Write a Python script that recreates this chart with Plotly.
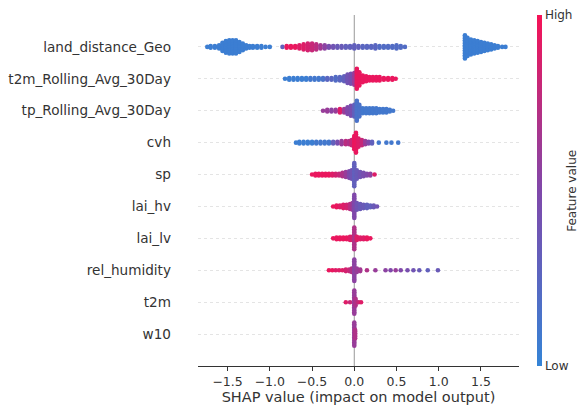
import plotly.graph_objects as go

# ---------------- data ----------------
features = ["land_distance_Geo", "t2m_Rolling_Avg_30Day", "tp_Rolling_Avg_30Day", "cvh", "sp",
            "lai_hv", "lai_lv", "rel_humidity", "t2m", "w10"]

# per feature: SHAP value bins, number of stacked points in each bin, mean feature value (0=low,1=high)
land_x = [-1.74, -1.70, -1.65, -1.60, -1.56, -1.52, -1.48, -1.44, -1.40, -1.36, -1.32, -1.28, -1.24, -1.20,
          -1.15, -1.10, -1.05, -1.00,
          -0.85, -0.80, -0.75, -0.70, -0.65, -0.60, -0.55, -0.50, -0.45, -0.40, -0.35, -0.30, -0.25, -0.20,
          -0.15, -0.10, -0.05, 0.00, 0.05, 0.10, 0.15, 0.20, 0.25, 0.30, 0.35, 0.40, 0.45, 0.50, 0.55, 0.60,
          1.31, 1.34, 1.38, 1.42, 1.46, 1.50, 1.54, 1.58, 1.62, 1.66, 1.70, 1.75, 1.79]
land_n = [1, 2, 2, 3, 6, 8, 9, 9, 9, 7, 5, 3, 2, 2, 2, 2, 1, 1,
          1, 2, 2, 2, 3, 4, 5, 5, 4, 3, 3, 2, 2, 2, 2, 2, 2, 3, 2, 2, 2, 2, 3, 2, 2, 2, 2, 3, 2, 1,
          15, 12, 10, 9, 8, 7, 6, 5, 4, 3, 2, 1, 1]
land_c = [0.05] * 18 + \
         [0.3, 0.95, 0.95, 0.95, 0.9, 0.9, 0.85, 0.8, 0.75, 0.65, 0.55, 0.45, 0.4, 0.35, 0.35, 0.3, 0.3, 0.3,
          0.3, 0.25, 0.25, 0.25, 0.25, 0.2, 0.2, 0.2, 0.2, 0.2, 0.2, 0.2] + [0.05] * 13

t2mr_x = [-0.82, -0.77, -0.72, -0.67, -0.62, -0.57, -0.52, -0.47, -0.42, -0.37, -0.32, -0.27, -0.22, -0.17,
          -0.12, -0.08, -0.04, 0.00, 0.03, 0.06, 0.10, 0.14, 0.18, 0.22, 0.26, 0.30, 0.35, 0.40, 0.45, 0.49]
t2mr_n = [1, 2, 2, 2, 2, 2, 2, 2, 2, 2, 2, 2, 3, 3, 4, 6, 7, 8, 13, 9, 5, 4, 3, 3, 3, 3, 2, 2, 2, 1]
t2mr_c = [0.05, 0.05, 0.05, 0.05, 0.05, 0.05, 0.1, 0.1, 0.1, 0.15, 0.25, 0.25, 0.2, 0.25,
          0.3, 0.4, 0.45, 0.6, 0.95, 0.95, 0.95, 0.95, 0.95, 0.95, 0.95, 0.95, 0.95, 0.95, 0.95, 0.95]

tp_x = [-0.37, -0.32, -0.27, -0.22, -0.17, -0.12, -0.08, -0.04, 0.00, 0.03, 0.06, 0.10, 0.14, 0.18,
        0.22, 0.26, 0.30, 0.34, 0.38, 0.42, 0.46]
tp_n = [1, 2, 2, 2, 3, 3, 5, 7, 8, 13, 8, 4, 4, 4, 4, 4, 3, 3, 3, 2, 1]
tp_c = [0.6, 0.6, 0.55, 0.6, 0.9, 0.6, 0.5, 0.45, 0.3, 0.15, 0.15, 0.1, 0.1, 0.1,
        0.1, 0.1, 0.1, 0.1, 0.1, 0.1, 0.1]

cvh_x = [-0.69, -0.65, -0.60, -0.55, -0.50, -0.45, -0.40, -0.35, -0.30, -0.25, -0.20, -0.15, -0.10,
         -0.06, -0.03, 0.00, 0.02, 0.05, 0.09, 0.13, 0.17, 0.21, 0.29, 0.38, 0.44, 0.52]
cvh_n = [1, 2, 2, 2, 2, 2, 2, 2, 2, 2, 2, 3, 3, 3, 4, 9, 13, 6, 4, 3, 2, 2, 1, 1, 1, 1]
cvh_c = [0.05, 0.05, 0.05, 0.05, 0.05, 0.1, 0.1, 0.1, 0.1, 0.3, 0.45, 0.6, 0.75,
         0.7, 0.8, 0.95, 0.95, 0.9, 0.8, 0.6, 0.5, 0.3, 0.1, 0.1, 0.1, 0.1]

sp_x = [-0.50, -0.46, -0.42, -0.38, -0.34, -0.30, -0.26, -0.22, -0.18, -0.14, -0.10, -0.06, -0.03,
        0.00, 0.03, 0.07, 0.11, 0.15, 0.19, 0.24]
sp_n = [1, 2, 2, 2, 2, 2, 2, 2, 2, 3, 4, 5, 6, 15, 6, 4, 3, 2, 2, 1]
sp_c = [0.95, 0.95, 0.95, 0.95, 0.95, 0.95, 0.9, 0.85, 0.8, 0.7, 0.6, 0.5, 0.4,
        0.3, 0.35, 0.4, 0.45, 0.5, 0.55, 0.9]

laihv_x = [-0.25, -0.21, -0.17, -0.13, -0.09, -0.05, -0.02, 0.00, 0.03, 0.07, 0.11, 0.15, 0.19, 0.23, 0.27]
laihv_n = [1, 2, 2, 3, 3, 4, 5, 15, 5, 4, 3, 3, 2, 2, 1]
laihv_c = [0.95, 0.95, 0.9, 0.9, 0.85, 0.75, 0.6, 0.5, 0.4, 0.35, 0.35, 0.3, 0.3, 0.35, 0.4]

lailv_x = [-0.25, -0.21, -0.17, -0.13, -0.09, -0.05, -0.02, 0.00, 0.03, 0.07, 0.11, 0.15, 0.19]
lailv_n = [1, 2, 2, 2, 2, 3, 3, 14, 3, 2, 2, 2, 1]
lailv_c = [0.95, 0.95, 0.95, 0.95, 0.95, 0.9, 0.85, 0.7, 0.9, 0.9, 0.9, 0.95, 0.95]

rh_x = [-0.30, -0.26, -0.22, -0.18, -0.14, -0.10, -0.06, -0.03, 0.00, 0.03, 0.07, 0.15, 0.25, 0.37,
        0.43, 0.49, 0.55, 0.63, 0.70, 0.77, 0.87, 0.99]
rh_n = [1, 1, 1, 1, 1, 2, 2, 3, 14, 3, 2, 1, 1, 1, 1, 1, 1, 1, 1, 1, 1, 1]
rh_c = [0.95, 0.95, 0.9, 0.9, 0.9, 0.85, 0.8, 0.7, 0.55, 0.6, 0.65, 0.7, 0.6, 0.55,
        0.5, 0.6, 0.5, 0.45, 0.4, 0.35, 0.3, 0.35]

t2m_x = [-0.10, -0.05, 0.00, 0.015, 0.05, 0.08]
t2m_n = [1, 1, 15, 5, 1, 1]
t2m_c = [0.9, 0.8, 0.6, 0.7, 0.8, 0.9]

w10_x = [0.00, 0.01]
w10_n = [15, 6]
w10_c = [0.6, 0.7]

x_ticks = [-1.5, -1.0, -0.5, 0.0, 0.5, 1.0, 1.5]
x_tick_labels = ["\u22121.5", "\u22121.0", "\u22120.5", "0.0", "0.5", "1.0", "1.5"]

series = [(land_x, land_n, land_c), (t2mr_x, t2mr_n, t2mr_c), (tp_x, tp_n, tp_c), (cvh_x, cvh_n, cvh_c),
          (sp_x, sp_n, sp_c), (laihv_x, laihv_n, laihv_c), (lailv_x, lailv_n, lailv_c),
          (rh_x, rh_n, rh_c), (t2m_x, t2m_n, t2m_c), (w10_x, w10_n, w10_c)]

# ---------------- beeswarm layout ----------------
DY = 0.052
colorscale = [[0.0, "rgb(52,132,214)"], [0.5, "rgb(128,72,170)"], [1.0, "rgb(246,18,86)"]]
nrow = len(features)

fig = go.Figure()
for i, (feat, (xs, ns, cs)) in enumerate(zip(features, series)):
    row = nrow - 1 - i
    px, py, pc = [], [], []
    for x, n, c in zip(xs, ns, cs):
        for k in range(n):
            px.append(x)
            py.append(row + (k - (n - 1) / 2) * DY)
            pc.append(c)
    fig.add_trace(go.Scatter(
        x=px, y=py, mode="markers", name=feat, showlegend=False, hoverinfo="skip",
        marker=dict(size=4.6, color=pc, cmin=0, cmax=1, colorscale=colorscale,
                    line=dict(width=0), showscale=(i == 0),
                    colorbar=dict(x=1.056, xanchor="left", xpad=0, y=0.5, yanchor="middle", ypad=0,
                                  len=1.0, lenmode="fraction", thickness=5, outlinewidth=0,
                                  tickvals=[0, 1], ticktext=["Low", "High"], ticks="",
                                  tickfont=dict(size=12, color="#333333"))),
    ))

fig.add_shape(type="line", x0=0, x1=0, y0=-1, y1=nrow, xref="x", yref="y",
              line=dict(color="#999999", width=1), layer="below")

fig.add_annotation(text="Feature value", xref="paper", yref="paper", x=1.163, y=0.5,
                   xanchor="center", yanchor="middle", textangle=-90, showarrow=False,
                   font=dict(size=12, color="#333333"))

fig.update_layout(
    width=583, height=406,
    margin=dict(l=198, r=64, t=15, b=40, autoexpand=False),
    plot_bgcolor="white", paper_bgcolor="white",
    font=dict(family="DejaVu Sans", color="#333333"),
    xaxis=dict(range=[-1.85, 1.95], tickvals=x_ticks, ticktext=x_tick_labels,
               showgrid=False, zeroline=False, showline=True, linecolor="#333333", linewidth=1,
               ticks="outside", ticklen=4, tickcolor="#333333", tickfont=dict(size=12.5, color="#333333"),
               title=dict(text="SHAP value (impact on model output)", font=dict(size=14.5, color="#333333"),
                          standoff=2)),
    yaxis=dict(range=[-1, nrow], tickvals=list(range(nrow)), ticktext=features[::-1],
               showgrid=True, gridcolor="#e4e4e4", gridwidth=0.5, griddash="dot",
               zeroline=False, showline=False, ticks="", ticklabelstandoff=26,
               tickfont=dict(size=13.6, color="#333333")),
)

fig.write_html("out.html", config={"displayModeBar": False},
               post_script="document.body.style.margin='0';document.body.style.overflow='hidden';")
